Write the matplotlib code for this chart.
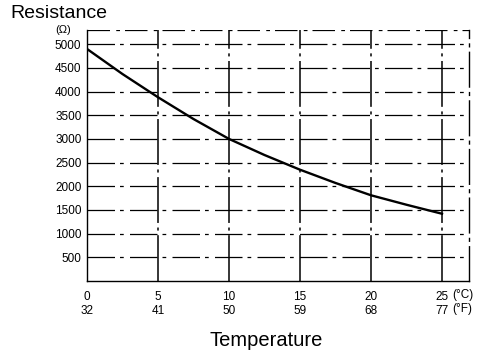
import numpy as np
import matplotlib.pyplot as plt

# temperature (deg C) and resistance (ohm)
temp_c = [0, 2.5, 5, 7.5, 10, 12.5, 15, 17.5, 20, 22.5, 25]
resistance = [4900, 4370, 3880, 3420, 3000, 2660, 2350, 2070, 1810, 1610, 1420]

c_ticks = [0, 5, 10, 15, 20, 25]
f_ticks = [32, 41, 50, 59, 68, 77]
r_ticks = [500, 1000, 1500, 2000, 2500, 3000, 3500, 4000, 4500, 5000]

plt.rcParams['font.family'] = ['Liberation Sans', 'DejaVu Sans']

fig = plt.figure(figsize=(4.96, 3.56), dpi=100)
ax = fig.add_axes([87 / 496, 1 - 281 / 356, 382 / 496, 251 / 356])

# scanned-looking grid
for r in r_ticks:
    ax.axhline(r, color='black', lw=0.9, ls=(0, (22, 4, 3, 5)), zorder=1)
for c in c_ticks[1:]:
    ax.axvline(c, color='black', lw=1.1, ls=(0, (30, 3, 2, 3)), zorder=1)
ax.axhline(5300, color='black', lw=0.9, ls=(0, (18, 5, 3, 4)), zorder=1)

ax.plot(temp_c, resistance, color='black', lw=1.7, zorder=3)

ax.set_xlim(0, 26.9)
ax.set_ylim(0, 5300)
ax.set_xticks(c_ticks)
ax.set_xticklabels([f'{c}\n{f}' for c, f in zip(c_ticks, f_ticks)],
                   fontsize=8.5, linespacing=1.25)
ax.set_yticks(r_ticks)
ax.set_yticklabels([str(r) for r in r_ticks], fontsize=8.5)
ax.tick_params(axis='both', length=0)
ax.tick_params(axis='x', pad=7)
ax.tick_params(axis='y', pad=4)

ax.spines['top'].set_visible(False)
ax.spines['right'].set_linestyle((0, (25, 4, 2, 4)))
for s in ['left', 'bottom', 'right']:
    ax.spines[s].set_linewidth(1.0)

ax.text(25.7, -300, '(°C)', fontsize=8.5, ha='left', va='center')
ax.text(25.7, -600, '(°F)', fontsize=8.5, ha='left', va='center')
ax.text(-1.7, 5300, '(Ω)', fontsize=8, ha='center', va='center')

fig.text(10 / 496, 1 - 14 / 356, 'Resistance', fontsize=14, ha='left', va='center')
fig.text(266 / 496, 1 - 340 / 356, 'Temperature', fontsize=14.5, ha='center', va='center')

fig.savefig('out.png', dpi=100)
